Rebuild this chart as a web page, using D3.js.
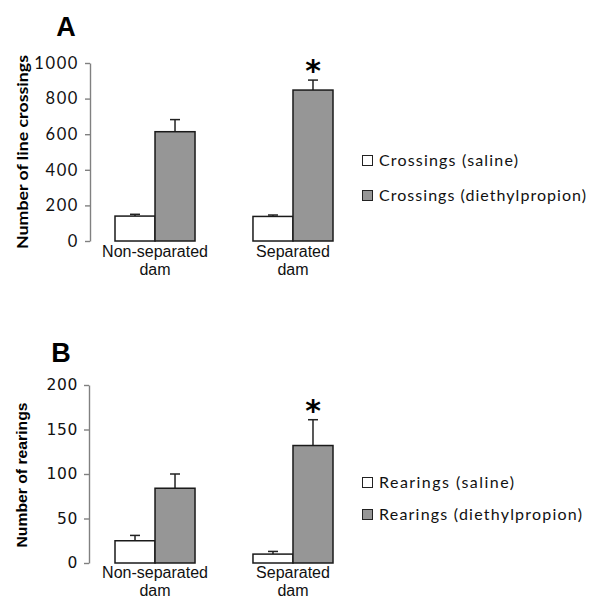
<!DOCTYPE html>
<html>
<head>
<meta charset="utf-8">
<script src="https://cdn.jsdelivr.net/npm/d3@7"></script>
<style>
    body { margin: 0; background: #fff; }
    svg { display: block; }
</style>
</head>
<body>
<svg id="chart" width="600" height="610"></svg>
<script>
// groups on the x axis
const groups = ["Non-separated dam", "Separated dam"];
const series = ["saline", "diethylpropion"];

// panel A: line crossings
const crossingsSaline = [140, 138];
const crossingsSalineSem = [10, 8];
const crossingsDiethyl = [614, 848];
const crossingsDiethylSem = [68, 56];
const crossingsTicks = [0, 200, 400, 600, 800, 1000];
const crossingsStars = [false, true];

// panel B: rearings
const rearingsSaline = [25, 10];
const rearingsSalineSem = [6, 3];
const rearingsDiethyl = [84, 132];
const rearingsDiethylSem = [16, 29];
const rearingsTicks = [0, 50, 100, 150, 200];
const rearingsStars = [false, true];

const svg = d3.select("#chart");
const fillColors = {saline: "#ffffff", diethylpropion: "#969696"};

function drawPanel(opts) {
    let g = svg.append("g");

    let x = d3.scaleBand()
        .domain(groups)
        .range([opts.x0, opts.x1])
        .paddingInner(0.42)
        .paddingOuter(0);
    let inner = d3.scaleBand()
        .domain(series)
        .range([0, x.bandwidth()]);
    let y = d3.scaleLinear()
        .domain([0, d3.max(opts.ticks)])
        .range([opts.yBottom, opts.yTop]);

    // panel letter
    g.append("text")
        .attr("x", opts.letterX)
        .attr("y", opts.letterY)
        .attr("text-anchor", "middle")
        .style("font-family", "'Liberation Sans', Arial, sans-serif")
        .style("font-weight", "bold")
        .style("font-size", "27px")
        .text(opts.letter);

    // y axis
    let axis = g.append("g")
        .attr("transform", "translate(" + opts.axisX + ",0)")
        .call(d3.axisLeft(y).tickValues(opts.ticks).tickFormat(d3.format("d"))
            .tickSize(5).tickSizeOuter(0).tickPadding(opts.tickPad));
    axis.select(".domain").attr("stroke", "#808080").attr("stroke-width", 1.4);
    axis.selectAll(".tick line").attr("stroke", "#808080").attr("stroke-width", 1.4);
    axis.selectAll(".tick text")
        .attr("fill", "#111")
        .style("font-family", opts.tickFont)
        .style("font-size", opts.tickSize)
        .style("letter-spacing", opts.tickSpacing);

    // y title
    g.append("text")
        .attr("transform", "translate(" + opts.titleX + "," + ((opts.yTop + opts.yBottom) / 2 + opts.titleShift) + ") rotate(-90)")
        .attr("text-anchor", "middle")
        .attr("textLength", opts.titleLength)
        .attr("lengthAdjust", "spacingAndGlyphs")
        .style("font-family", opts.titleFont)
        .style("font-weight", "bold")
        .style("font-size", opts.titleSize)
        .text(opts.title);

    let rows = [];
    groups.forEach((grp, i) => {
        rows.push({grp: grp, s: "saline", v: opts.saline[i], e: opts.salineSem[i]});
        rows.push({grp: grp, s: "diethylpropion", v: opts.diethyl[i], e: opts.diethylSem[i]});
    });

    // error bars (upper only)
    let err = g.selectAll(".err").data(rows).enter().append("g").attr("class", "err");
    err.append("line")
        .attr("x1", d => x(d.grp) + inner(d.s) + inner.bandwidth() / 2)
        .attr("x2", d => x(d.grp) + inner(d.s) + inner.bandwidth() / 2)
        .attr("y1", d => y(d.v))
        .attr("y2", d => y(d.v + d.e))
        .attr("stroke", "#222").attr("stroke-width", 1.5);
    err.append("line")
        .attr("x1", d => x(d.grp) + inner(d.s) + inner.bandwidth() / 2 - 5)
        .attr("x2", d => x(d.grp) + inner(d.s) + inner.bandwidth() / 2 + 5)
        .attr("y1", d => y(d.v + d.e))
        .attr("y2", d => y(d.v + d.e))
        .attr("stroke", "#222").attr("stroke-width", 1.5);

    // bars
    g.selectAll(".bar").data(rows).enter().append("rect")
        .attr("class", "bar")
        .attr("x", d => x(d.grp) + inner(d.s))
        .attr("y", d => y(d.v))
        .attr("width", inner.bandwidth())
        .attr("height", d => y(0) - y(d.v))
        .attr("fill", d => fillColors[d.s])
        .attr("stroke", "#1a1a1a")
        .attr("stroke-width", 1.5);

    // significance stars
    groups.forEach((grp, i) => {
        if (!opts.stars[i]) return;
        g.append("text")
            .attr("x", x(grp) + inner("diethylpropion") + inner.bandwidth() / 2)
            .attr("y", y(opts.diethyl[i] + opts.diethylSem[i]) + 1)
            .attr("text-anchor", "middle")
            .style("font-family", "'DejaVu Sans', sans-serif")
            .style("font-weight", "bold")
            .style("font-size", "30px")
            .text("*");
    });

    // category labels, two lines
    groups.forEach(grp => {
        let words = grp.split(" ");
        let t = g.append("text")
            .attr("text-anchor", "middle")
            .style("font-family", "'Liberation Sans', Arial, sans-serif")
            .style("font-size", "16px")
            .attr("fill", "#111");
        t.append("tspan").attr("x", x(grp) + x.bandwidth() / 2).attr("y", opts.yBottom + opts.labelDy).text(words[0]);
        t.append("tspan").attr("x", x(grp) + x.bandwidth() / 2).attr("dy", 18).text(words[1]);
    });

    // legend
    let leg = g.selectAll(".leg").data(series).enter().append("g")
        .attr("class", "leg")
        .attr("transform", (d, i) => "translate(362," + (opts.legendY + i * opts.legendGap) + ")");
    leg.append("rect")
        .attr("x", 0.5).attr("y", -10.5)
        .attr("width", 10).attr("height", 10)
        .attr("fill", d => fillColors[d])
        .attr("stroke", "#222").attr("stroke-width", 1);
    leg.append("text")
        .attr("x", 17).attr("y", 0)
        .attr("textLength", (d, i) => opts.legendLengths[i])
        .attr("lengthAdjust", "spacing")
        .style("font-family", "Lato, 'Open Sans', sans-serif")
        .style("font-size", "16px")
        .attr("fill", "#111")
        .text(d => opts.legendName + " (" + d + ")");
}

drawPanel({
    letter: "A", letterX: 66, letterY: 36,
    x0: 115, x1: 333, yBottom: 241, yTop: 63, axisX: 90,
    ticks: crossingsTicks, tickPad: 6,
    tickFont: "Lato, sans-serif", tickSize: "16.5px", tickSpacing: "1.6px",
    title: "Number of line crossings", titleX: 28, titleShift: 0,
    titleFont: "Lato, 'Open Sans', sans-serif", titleSize: "15px", titleLength: 194,
    saline: crossingsSaline, salineSem: crossingsSalineSem,
    diethyl: crossingsDiethyl, diethylSem: crossingsDiethylSem,
    stars: crossingsStars, labelDy: 16,
    legendName: "Crossings", legendY: 166, legendGap: 35, legendLengths: [139, 207]
});

drawPanel({
    letter: "B", letterX: 61, letterY: 362,
    x0: 115, x1: 333, yBottom: 563, yTop: 385, axisX: 89,
    ticks: rearingsTicks, tickPad: 6,
    tickFont: "'DejaVu Sans', sans-serif", tickSize: "15.5px", tickSpacing: "0.6px",
    title: "Number of rearings", titleX: 27, titleShift: 1,
    titleFont: "'Liberation Sans', Arial, sans-serif", titleSize: "15.5px", titleLength: 145,
    saline: rearingsSaline, salineSem: rearingsSalineSem,
    diethyl: rearingsDiethyl, diethylSem: rearingsDiethylSem,
    stars: rearingsStars, labelDy: 15,
    legendName: "Rearings", legendY: 488, legendGap: 32, legendLengths: [135, 203]
});
</script>
</body>
</html>
